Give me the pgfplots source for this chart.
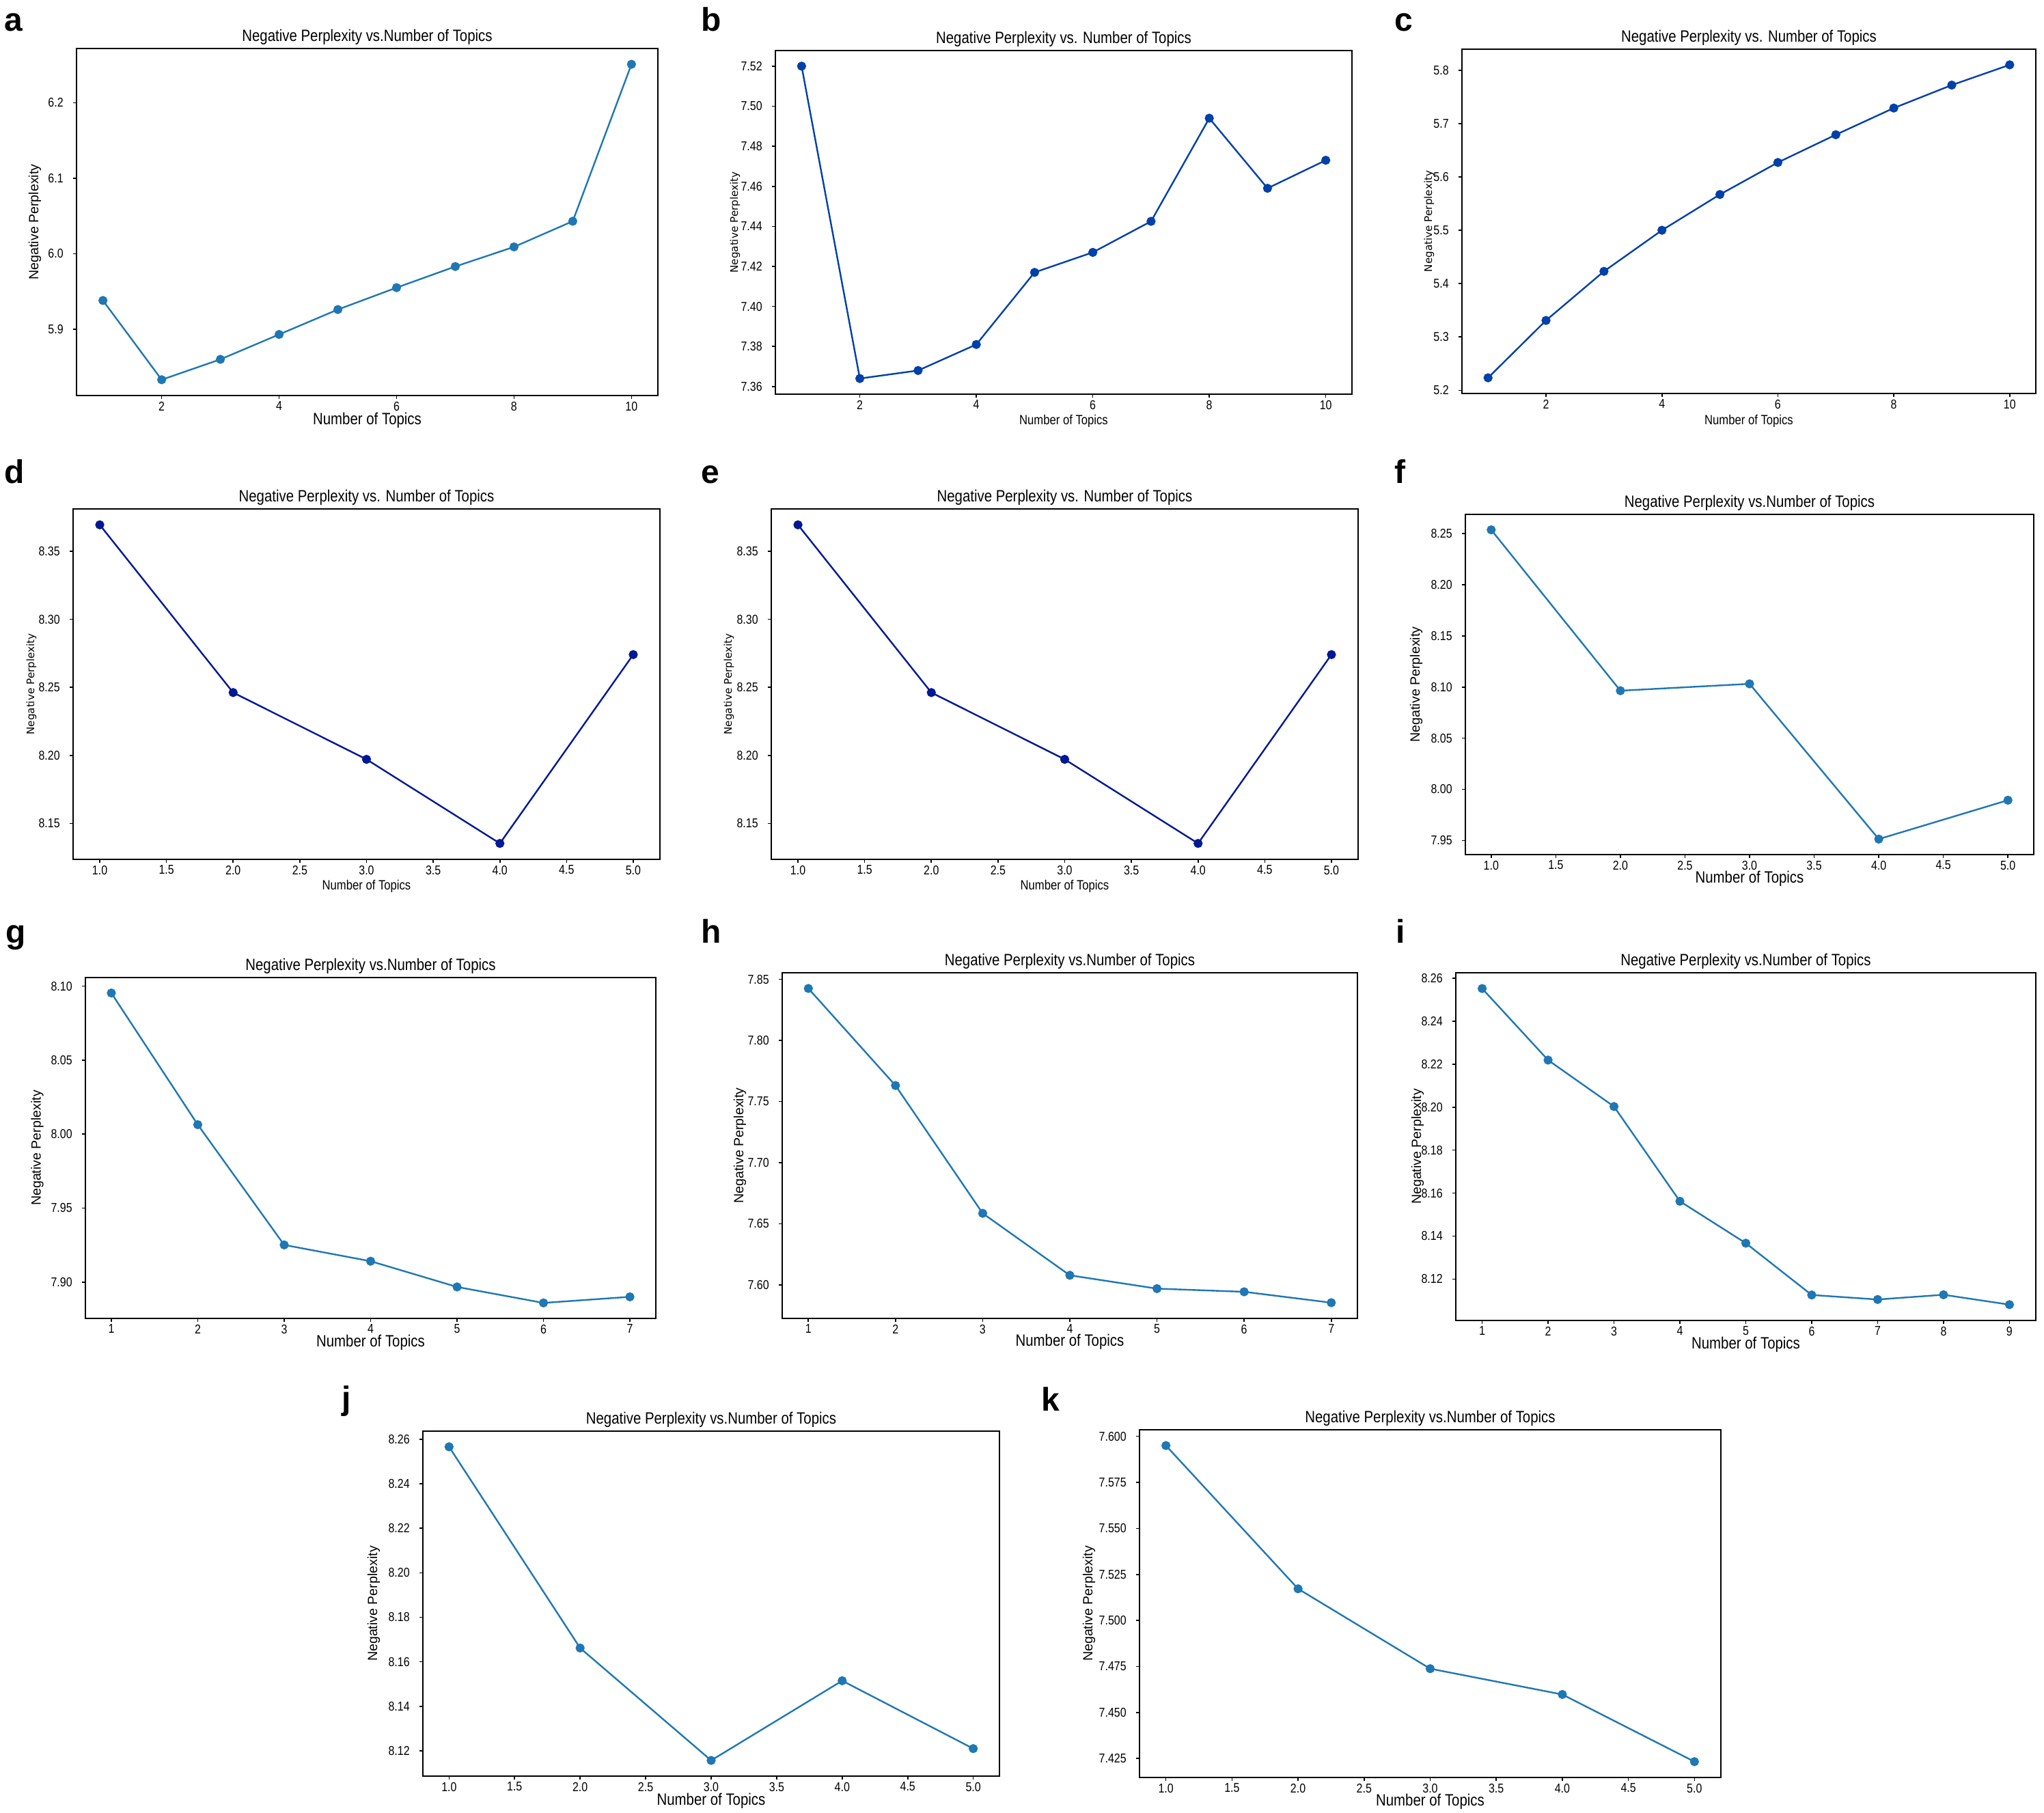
\documentclass[border=0pt]{standalone}
\usepackage{pgfplots}
\pgfplotsset{compat=1.18}
\usepackage{fontspec}
\setmainfont{Liberation Sans}
\newfontfamily\narrowf{Liberation Sans}[FakeStretch=0.85]
\newfontfamily\dvs{DejaVu Sans}
\definecolor{tabblue}{RGB}{31,119,180}
\definecolor{bblue}{RGB}{0,64,170}
\definecolor{dblue}{RGB}{0,24,150}
\newcommand\tickf{\narrowf\fontsize{4.7}{5.5}\selectfont}
\newcommand\titlef{\narrowf\fontsize{6}{7}\selectfont}
\newcommand\xls{\narrowf\fontsize{4.9}{6}\selectfont}
\newcommand\ylA{\fontsize{4.9}{6}\selectfont}
\newcommand\ylB{\dvs\fontsize{3.8}{4.5}\selectfont}
\newcommand\letf{\bfseries\fontsize{12}{14}\selectfont}
\pgfplotsset{
  np/.style={scale only axis, anchor=south west,
    axis line style={line width=0.6pt, black},
    tick align=outside, xtick pos=left, ytick pos=left,
    major tick length=1.3pt,
    every tick/.style={black, line width=0.4pt},
    every tick label/.append style={font=\tickf},
    xticklabel style={yshift=2.6pt},
    /pgf/number format/assume math mode=true,
    enlarge x limits=0.05, enlarge y limits=0.05,
    every axis title/.style={at={(axis description cs:0.5,1)}, anchor=center, yshift=4.2pt, font=\titlef},
    xlabel={Number of Topics}, ylabel={Negative Perplexity}},
  tA/.style={title={Negative Perplexity vs.Number of Topics}},
  tB/.style={title={Negative Perplexity vs. Number of Topics}},
  yl/.style 2 args={every axis y label/.style={at={(axis description cs:#1,0.5)}, rotate=90, anchor=center, font=#2}},
  xl/.style 2 args={every axis x label/.style={at={(axis description cs:0.5,0)}, anchor=center, yshift=-#1, font=#2}},
  yp/.style={yticklabel style={/pgf/number format/fixed, /pgf/number format/fixed zerofill, /pgf/number format/precision=#1}},
  xp/.style={xticklabel style={/pgf/number format/fixed, /pgf/number format/fixed zerofill, /pgf/number format/precision=#1}},
  ln/.style={color=#1, line width=0.6pt, mark=*, mark size=1.35pt, mark options={solid, fill=#1, draw=#1}},
}
\begin{document}
\begin{tikzpicture}
\path[use as bounding box] (0,0) rectangle (748pt,663.5pt);
% panel letters
\node[anchor=base west, inner sep=0pt, font=\letf] at (1.5pt,652pt) {a};
\node[anchor=base west, inner sep=0pt, font=\letf] at (256.5pt,652pt) {b};
\node[anchor=base west, inner sep=0pt, font=\letf] at (510.25pt,652pt) {c};
\node[anchor=base west, inner sep=0pt, font=\letf] at (1.5pt,486.5pt) {d};
\node[anchor=base west, inner sep=0pt, font=\letf] at (256.5pt,486.5pt) {e};
\node[anchor=base west, inner sep=0pt, font=\letf] at (510.25pt,486.5pt) {f};
\node[anchor=base west, inner sep=0pt, font=\letf] at (2pt,318.25pt) {g};
\node[anchor=base west, inner sep=0pt, font=\letf] at (256.5pt,318.25pt) {h};
\node[anchor=base west, inner sep=0pt, font=\letf] at (510.75pt,318.25pt) {i};
\node[anchor=base west, inner sep=0pt, font=\letf] at (125pt,147.5pt) {j};
\node[anchor=base west, inner sep=0pt, font=\letf] at (381pt,147pt) {k};

% a
\begin{axis}[np, tA, at={(28pt,518.75pt)}, width=212.75pt, height=127pt,
  xtick={2,4,6,8,10}, ytick={5.9,6.0,6.1,6.2}, yp=1,
  yl={-0.0717}{\ylA}, xl={9.2pt}{\titlef}]
\addplot[ln=tabblue] coordinates {(1,5.938) (2,5.833) (3,5.860) (4,5.893) (5,5.926) (6,5.955) (7,5.983) (8,6.009) (9,6.043) (10,6.251)};
\end{axis}
% b
\begin{axis}[np, tB, at={(283.75pt,519.25pt)}, width=211pt, height=125.75pt,
  xtick={2,4,6,8,10}, ytick={7.36,7.38,7.40,7.42,7.44,7.46,7.48,7.50,7.52}, yp=2,
  yl={-0.0699}{\ylB}, xl={9.75pt}{\xls}]
\addplot[ln=bblue] coordinates {(1,7.520) (2,7.364) (3,7.368) (4,7.381) (5,7.417) (6,7.427) (7,7.4425) (8,7.494) (9,7.459) (10,7.473)};
\end{axis}
% c
\begin{axis}[np, tB, at={(535pt,519.5pt)}, width=210pt, height=126pt,
  xtick={2,4,6,8,10}, ytick={5.2,5.3,5.4,5.5,5.6,5.7,5.8}, yp=1,
  yl={-0.0571}{\ylB}, xl={10pt}{\xls}]
\addplot[ln=bblue] coordinates {(1,5.2235) (2,5.331) (3,5.423) (4,5.500) (5,5.567) (6,5.627) (7,5.679) (8,5.729) (9,5.772) (10,5.810)};
\end{axis}
% d
\begin{axis}[np, tB, at={(26.75pt,349pt)}, width=214.75pt, height=128.25pt,
  xtick={1,1.5,2,2.5,3,3.5,4,4.5,5}, xp=1, ytick={8.15,8.20,8.25,8.30,8.35}, yp=2,
  yl={-0.0710}{\ylB}, xl={9.9pt}{\xls}]
\addplot[ln=dblue] coordinates {(1,8.3695) (2,8.2462) (3,8.1971) (4,8.1353) (5,8.2741)};
\end{axis}
% e
\begin{axis}[np, tB, at={(282.25pt,349pt)}, width=214.75pt, height=128.25pt,
  xtick={1,1.5,2,2.5,3,3.5,4,4.5,5}, xp=1, ytick={8.15,8.20,8.25,8.30,8.35}, yp=2,
  yl={-0.0722}{\ylB}, xl={9.9pt}{\xls}]
\addplot[ln=dblue] coordinates {(1,8.3695) (2,8.2462) (3,8.1971) (4,8.1353) (5,8.2741)};
\end{axis}
% f
\begin{axis}[np, tA, at={(536.25pt,350.75pt)}, width=208pt, height=124.5pt,
  xtick={1,1.5,2,2.5,3,3.5,4,4.5,5}, xp=1, ytick={7.95,8.00,8.05,8.10,8.15,8.20,8.25}, yp=2,
  yl={-0.0865}{\ylA}, xl={8.8pt}{\titlef}]
\addplot[ln=tabblue] coordinates {(1,8.2536) (2,8.0964) (3,8.1031) (4,7.9514) (5,7.9894)};
\end{axis}
% g
\begin{axis}[np, tA, at={(31.25pt,181pt)}, width=208.75pt, height=124.75pt,
  xtick={1,2,3,4,5,6,7}, ytick={7.90,7.95,8.00,8.05,8.10}, yp=2,
  yl={-0.0843}{\ylA}, xl={8.8pt}{\titlef}]
\addplot[ln=tabblue] coordinates {(1,8.0954) (2,8.0064) (3,7.9251) (4,7.9141) (5,7.8967) (6,7.8859) (7,7.8900)};
\end{axis}
% h
\begin{axis}[np, tA, at={(286.25pt,181pt)}, width=210.5pt, height=126.5pt,
  xtick={1,2,3,4,5,6,7}, ytick={7.60,7.65,7.70,7.75,7.80,7.85}, yp=2,
  yl={-0.0736}{\ylA}, xl={8.7pt}{\titlef}]
\addplot[ln=tabblue] coordinates {(1,7.8425) (2,7.7631) (3,7.6586) (4,7.6079) (5,7.5970) (6,7.5944) (7,7.5855)};
\end{axis}
% i
\begin{axis}[np, tA, at={(532.75pt,180.25pt)}, width=212.25pt, height=127.25pt,
  xtick={1,2,3,4,5,6,7,8,9}, ytick={8.12,8.14,8.16,8.18,8.20,8.22,8.24,8.26}, yp=2,
  yl={-0.066}{\ylA}, xl={8.9pt}{\titlef}]
\addplot[ln=tabblue] coordinates {(1,8.2552) (2,8.2219) (3,8.2003) (4,8.1562) (5,8.1367) (6,8.1126) (7,8.1105) (8,8.1127) (9,8.1081)};
\end{axis}
% j
\begin{axis}[np, tA, at={(154.75pt,13.5pt)}, width=211pt, height=126.25pt,
  xtick={1,1.5,2,2.5,3,3.5,4,4.5,5}, xp=1, ytick={8.12,8.14,8.16,8.18,8.20,8.22,8.24,8.26}, yp=2,
  yl={-0.0853}{\ylA}, xl={9pt}{\titlef}]
\addplot[ln=tabblue] coordinates {(1,8.2566) (2,8.1662) (3,8.1157) (4,8.1515) (5,8.1210)};
\end{axis}
% k
\begin{axis}[np, tA, at={(417pt,13pt)}, width=212.75pt, height=127.25pt,
  xtick={1,1.5,2,2.5,3,3.5,4,4.5,5}, xp=1, ytick={7.425,7.450,7.475,7.500,7.525,7.550,7.575,7.600}, yp=3,
  yl={-0.087}{\ylA}, xl={8.9pt}{\titlef}]
\addplot[ln=tabblue] coordinates {(1,7.595) (2,7.5172) (3,7.4738) (4,7.4598) (5,7.4233)};
\end{axis}
\end{tikzpicture}
\end{document}
